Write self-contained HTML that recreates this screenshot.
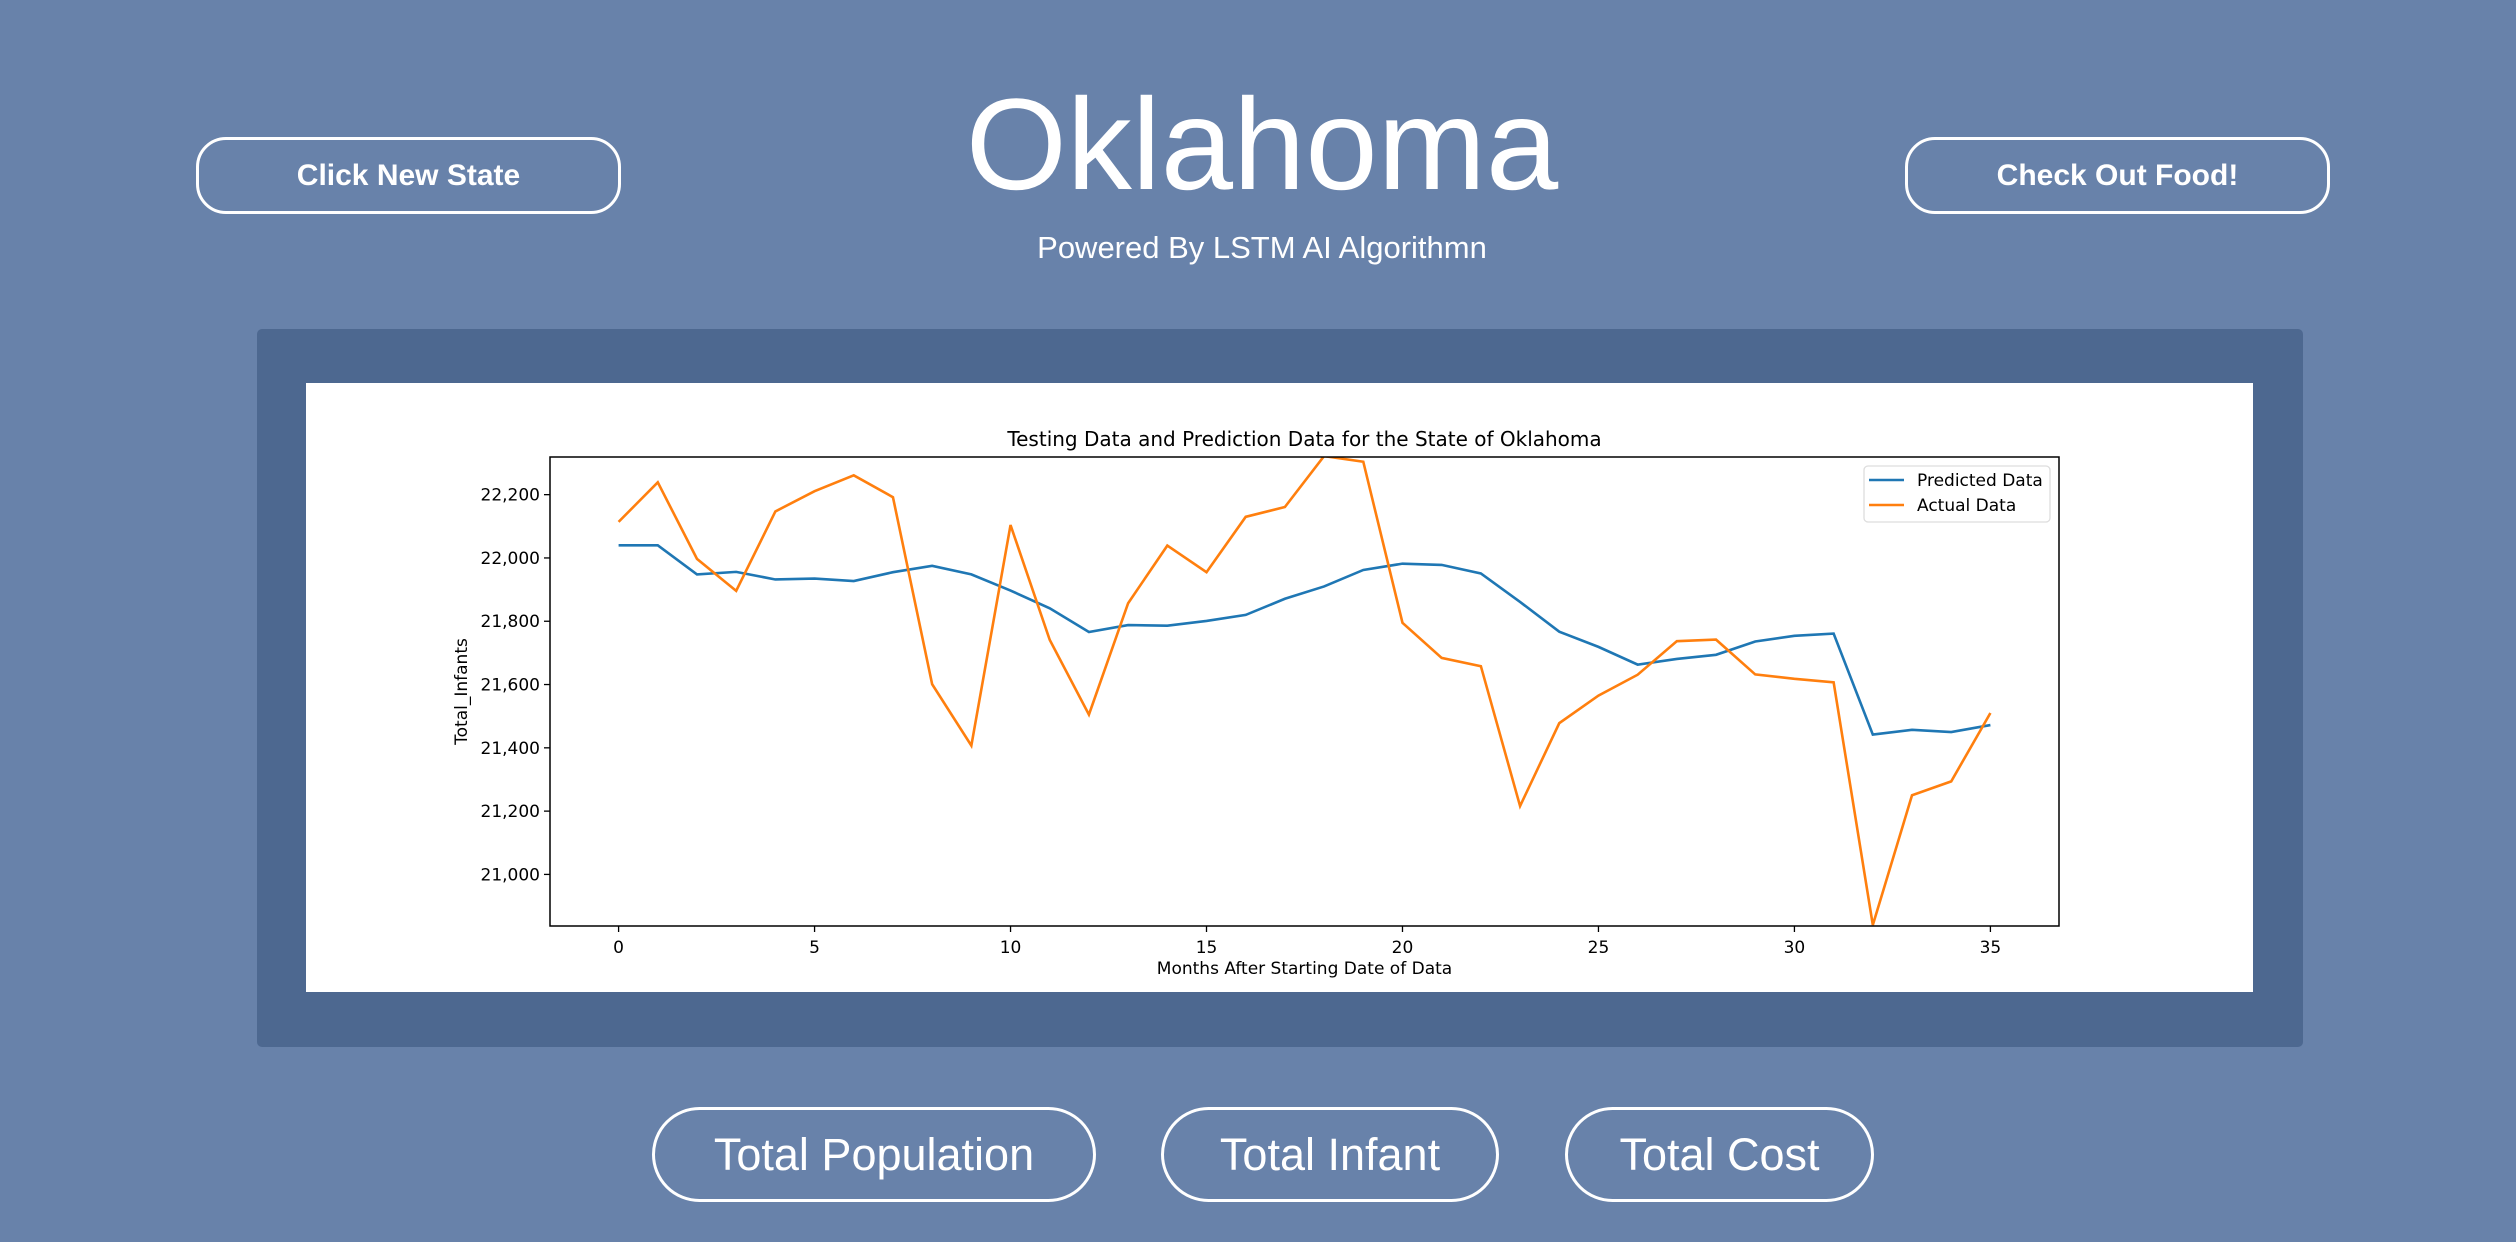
<!DOCTYPE html>
<html><head><meta charset="utf-8"><style>
html,body{margin:0;padding:0;}
body{width:2516px;height:1242px;background:#6882aa;position:relative;overflow:hidden;font-family:"Liberation Sans","DejaVu Sans",sans-serif;color:#fff;}
.btn{position:absolute;box-sizing:border-box;border:3px solid #fff;display:flex;align-items:center;justify-content:center;color:#fff;}
.top{height:77px;top:137px;width:425px;border-radius:30px;font-weight:bold;font-size:30px;}
.bot{height:95px;top:1107px;border-radius:48px;font-size:45px;}
#title{position:absolute;left:0;width:2524px;text-align:center;top:64px;font-size:130px;line-height:160px;}
#sub{position:absolute;left:0;width:2524px;text-align:center;top:228px;font-size:31px;line-height:40px;}
#panel{position:absolute;left:257px;top:329px;width:2046px;height:718px;background:#4d6890;border-radius:5px;}
#chart{position:absolute;left:0;top:0;}
</style></head><body>
<div class="btn top" style="left:196px">Click New State</div>
<div id="title">Oklahoma</div>
<div id="sub">Powered By LSTM AI Algorithmn</div>
<div class="btn top" style="left:1905px">Check Out Food!</div>
<div id="panel"></div>
<svg id="chart" width="2516" height="1242" font-family="'DejaVu Sans',sans-serif">
<rect x="306" y="383" width="1947" height="609" fill="#fff"/>
<g id="plot"></g>
</svg>
<div class="btn bot" style="left:652px;width:444px">Total Population</div>
<div class="btn bot" style="left:1161px;width:338px">Total Infant</div>
<div class="btn bot" style="left:1565px;width:309px">Total Cost</div>
<script>
const predicted=[22040,22040,21948,21956,21932,21935,21927,21955,21975,21948,21897,21841,21766,21788,21786,21801,21820,21871,21910,21962,21982,21978,21951,21861,21767,21719,21663,21681,21694,21736,21754,21761,21442,21457,21450,21472];
const actual=[22114,22239,21997,21896,22147,22211,22261,22192,21601,21407,22104,21741,21505,21857,22039,21955,22130,22161,22322,22304,21795,21684,21658,21216,21478,21565,21631,21737,21742,21632,21618,21607,20840,21250,21294,21510];
const xTicks=[0,5,10,15,20,25,30,35];
const yTicks=[21000,21200,21400,21600,21800,22000,22200];
const seriesNames=["Predicted Data","Actual Data"];
const L=550,R=2059,T=457,B=926;
const xMin=-1.75,xMax=36.75,yMin=20837,yMax=22319;
function sx(v){return L+(v-xMin)/(xMax-xMin)*(R-L);}
function sy(v){return B-(v-yMin)/(yMax-yMin)*(B-T);}
const NS="http://www.w3.org/2000/svg";
const g=document.getElementById('plot');
function mk(tag,attrs,parent){const e=document.createElementNS(NS,tag);for(const k in attrs)e.setAttribute(k,attrs[k]);(parent||g).appendChild(e);return e;}
const clip=mk('clipPath',{id:'pc'});mk('rect',{x:L,y:T,width:R-L,height:B-T},clip);
const cols=['#1f77b4','#ff7f0e'];
[predicted,actual].forEach((s,i)=>{
 const p=mk('polyline',{points:s.map((v,j)=>sx(j)+','+sy(v)).join(' '),fill:'none',stroke:cols[i],'stroke-width':2.6,'clip-path':'url(#pc)'});
 
 
});
const fr=mk('rect',{x:L,y:T,width:R-L,height:B-T,fill:'none',stroke:'#000','stroke-width':1.5});


xTicks.forEach(t=>{
 const x=sx(t);
 mk('line',{x1:x,x2:x,y1:B,y2:B+6,stroke:'#000','stroke-width':1.3});
 const tx=mk('text',{x:x,y:B+27,'text-anchor':'middle','font-size':17,fill:'#000'});tx.textContent=t;
 
 
});
yTicks.forEach(t=>{
 const y=sy(t);
 mk('line',{x1:L-6,x2:L,y1:y,y2:y,stroke:'#000','stroke-width':1.3});
 const tx=mk('text',{x:L-10,y:y+6,'text-anchor':'end','font-size':17,fill:'#000'});tx.textContent=t.toLocaleString('en-US');
 
 
});
const ti=mk('text',{x:(L+R)/2,y:446,'text-anchor':'middle','font-size':20,fill:'#000'});ti.textContent='Testing Data and Prediction Data for the State of Oklahoma';


const xl=mk('text',{x:(L+R)/2,y:974,'text-anchor':'middle','font-size':17,fill:'#000'});xl.textContent='Months After Starting Date of Data';


const yl=mk('text',{x:0,y:0,'text-anchor':'middle','font-size':17,fill:'#000',transform:'translate(467,'+((T+B)/2)+') rotate(-90)'});yl.textContent='Total_Infants';


const lg=mk('rect',{x:1864,y:466,width:186,height:56,rx:4,fill:'#fff',stroke:'#ddd','stroke-width':1.3});


seriesNames.forEach((n,i)=>{
 const y=480+i*25;
 mk('line',{x1:1869,x2:1904,y1:y,y2:y,stroke:cols[i],'stroke-width':2.6});
 const t=mk('text',{x:1917,y:y+6,'font-size':17,fill:'#000'});t.textContent=n;
 
 
});
</script>
</body></html>
